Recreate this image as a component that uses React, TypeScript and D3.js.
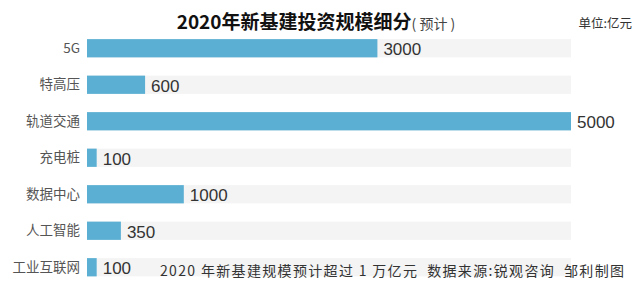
import React, { useEffect, useRef } from 'react';
import * as d3 from 'd3';

// 2020年新基建投资规模细分（预计），单位：亿元
const categories = ['5G', '特高压', '轨道交通', '充电桩', '数据中心', '人工智能', '工业互联网'];
const values = [3000, 600, 5000, 100, 1000, 350, 100];
const trackMax = 5000;

const title = '2020年新基建投资规模细分';
const titleNote = '( 预计 )';
const unitLabel = '单位:亿元';
const footnote = '2020 年新基建规模预计超过 1 万亿元  数据来源:锐观咨询  邹利制图';

const App = () => {
  const ref = useRef<SVGSVGElement>(null);

  useEffect(() => {
    if (!ref.current) return;
    const width = 640;
    const height = 292;
    const font = '"Noto Sans CJK SC", "Noto Sans", sans-serif';

    const svg = d3.select(ref.current);
    svg.selectAll('*').remove();
    svg.attr('width', width).attr('height', height).style('font-family', font);

    svg.append('rect').attr('width', width).attr('height', height).attr('fill', '#ffffff');

    const x = d3.scaleLinear().domain([0, trackMax]).range([87, 571]);
    const y = d3.scaleBand<string>()
      .domain(categories)
      .range([30, 285.5])
      .paddingInner(0.5)
      .paddingOuter(0.25);

    // grey tracks
    svg.selectAll('.track')
      .data(categories)
      .enter().append('rect')
      .attr('class', 'track')
      .attr('x', x(0))
      .attr('y', d => y(d)!)
      .attr('width', x(trackMax) - x(0))
      .attr('height', y.bandwidth())
      .attr('fill', '#f4f4f4');

    // bars
    svg.selectAll('.bar')
      .data(values)
      .enter().append('rect')
      .attr('class', 'bar')
      .attr('x', x(0))
      .attr('y', (d, i) => y(categories[i])!)
      .attr('width', d => x(d) - x(0))
      .attr('height', y.bandwidth())
      .attr('fill', '#5aafd3');

    // category labels
    svg.selectAll('.cat')
      .data(categories)
      .enter().append('text')
      .attr('class', 'cat')
      .attr('x', 80)
      .attr('y', d => y(d)! + y.bandwidth() / 2)
      .attr('dy', '0.35em')
      .attr('text-anchor', 'end')
      .attr('font-size', 13.5)
      .attr('fill', '#555')
      .text(d => d);

    // value labels
    svg.selectAll('.val')
      .data(values)
      .enter().append('text')
      .attr('class', 'val')
      .attr('x', d => x(d) + 6)
      .attr('y', (d, i) => y(categories[i])! + y.bandwidth() / 2 + 1)
      .attr('dy', '0.35em')
      .attr('font-size', 17)
      .attr('font-family', '"Liberation Sans", Arial, sans-serif')
      .attr('fill', '#333')
      .text(d => d);

    // title
    const t = svg.append('text')
      .attr('x', 316)
      .attr('y', 29)
      .attr('text-anchor', 'middle')
      .attr('fill', '#111')
      .style('white-space', 'pre');
    t.append('tspan').attr('font-size', 19).attr('font-weight', 'bold').text(title);
    t.append('tspan').attr('font-size', 14).attr('fill', '#444').text(titleNote);

    svg.append('text')
      .attr('x', 632)
      .attr('y', 28)
      .attr('text-anchor', 'end')
      .attr('font-size', 12.5)
      .attr('fill', '#333')
      .text(unitLabel);

    svg.append('text')
      .attr('x', 160)
      .attr('y', 276)
      .attr('font-size', 14)
      .attr('fill', '#333')
      .attr('textLength', 464)
      .attr('lengthAdjust', 'spacing')
      .style('white-space', 'pre')
      .text(footnote);
  }, []);

  return <svg ref={ref} style={{ position: 'absolute', left: 0, top: 0 }} />;
};

export default App;
